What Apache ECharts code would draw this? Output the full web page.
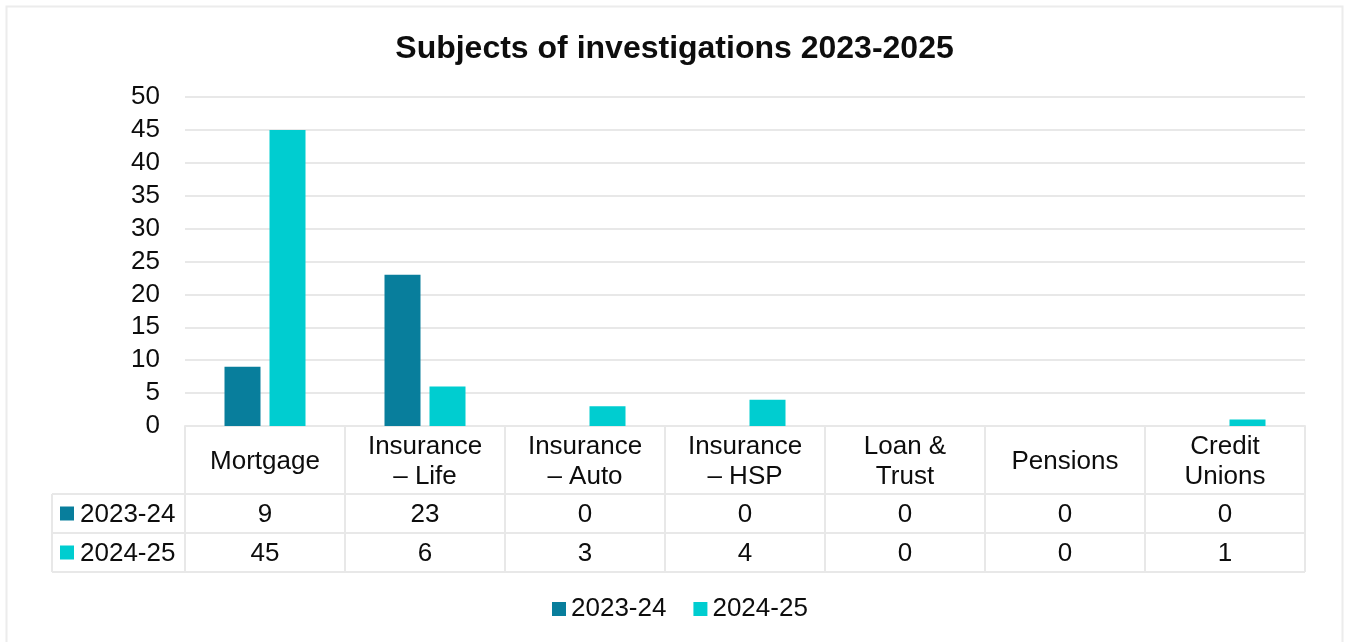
<!DOCTYPE html>
<html>
<head>
<meta charset="utf-8">
<script src="https://cdn.jsdelivr.net/npm/echarts@6/dist/echarts.min.js"></script>
<style>
html,body{margin:0;padding:0;background:#fff;}
#chart{width:1349px;height:642px;}
</style>
</head>
<body>
<div id="chart"></div>
<script>
const categories = ['Mortgage', 'Insurance\n– Life', 'Insurance\n– Auto', 'Insurance\n– HSP', 'Loan &\nTrust', 'Pensions', 'Credit\nUnions'];
const seriesNames = ['2023-24', '2024-25'];
const values2023 = [9, 23, 0, 0, 0, 0, 0];
const values2024 = [45, 6, 3, 4, 0, 0, 1];
const yTicks = { min: 0, max: 50, interval: 5 };
const titleText = 'Subjects of investigations 2023-2025';

const colors = ['#087e9c', '#00cdd0'];
const FONT = '"Liberation Sans", Arial, sans-serif';
const TXT = '#0d0d0d';
const LINE = '#e8e8e8';

const W = 1349, H = 642;
const GRID_L = 185, GRID_R = 1305, GRID_T = 97, GRID_B = 426;
const HEADER_H = 68, ROW_H = 39, TABLE_L = 52;

const chart = echarts.init(document.getElementById('chart'), null, { renderer: 'canvas' });

const rowY1 = GRID_B + HEADER_H;
const rowY2 = rowY1 + ROW_H;
const rowY3 = rowY2 + ROW_H;

const graphics = [
  { type: 'rect', shape: { x: 6.5, y: 6.5, width: W - 13, height: H }, style: { fill: null, stroke: '#ececec', lineWidth: 2 }, silent: true },
  { type: 'line', shape: { x1: TABLE_L, y1: rowY1, x2: GRID_R, y2: rowY1 }, style: { stroke: LINE, lineWidth: 2 } },
  { type: 'line', shape: { x1: TABLE_L, y1: rowY2, x2: GRID_R, y2: rowY2 }, style: { stroke: LINE, lineWidth: 2 } },
  { type: 'line', shape: { x1: TABLE_L, y1: rowY3, x2: GRID_R, y2: rowY3 }, style: { stroke: LINE, lineWidth: 2 } },
  { type: 'line', shape: { x1: TABLE_L, y1: rowY1, x2: TABLE_L, y2: rowY3 }, style: { stroke: LINE, lineWidth: 2 } }
];
seriesNames.forEach((name, i) => {
  const cy = rowY1 + ROW_H * i + ROW_H / 2;
  graphics.push({ type: 'rect', shape: { x: 60, y: cy - 7, width: 14, height: 14 }, style: { fill: colors[i] } });
  graphics.push({ type: 'text', x: 80, y: cy + 1, style: { text: name, font: '26px ' + FONT, fill: TXT, textVerticalAlign: 'middle', verticalAlign: 'middle' } });
});

const option = {
  animation: false,
  backgroundColor: '#fff',
  title: {
    text: titleText, left: 'center', top: 28,
    textStyle: { fontFamily: FONT, fontSize: 32, fontWeight: 'bold', color: TXT }
  },
  legend: {
    data: seriesNames, left: 547, top: 591, icon: 'rect', itemWidth: 14, itemHeight: 14, itemGap: 27,
    textStyle: { fontFamily: FONT, fontSize: 26, color: TXT }
  },
  grid: { left: GRID_L, right: W - GRID_R, top: GRID_T, bottom: H - GRID_B, containLabel: false },
  xAxis: [
    {
      type: 'category', data: categories, position: 'bottom',
      axisLine: { show: true, lineStyle: { color: LINE, width: 2 } },
      axisTick: { show: true, length: HEADER_H + 2 * ROW_H, lineStyle: { color: LINE, width: 2 } },
      axisLabel: { fontFamily: FONT, fontSize: 26, color: TXT, lineHeight: 30, margin: 36, verticalAlign: 'middle', interval: 0 }
    },
    {
      type: 'category', data: values2023.map(String), position: 'bottom', offset: HEADER_H,
      axisLine: { show: false }, axisTick: { show: false },
      axisLabel: { fontFamily: FONT, fontSize: 26, color: TXT, margin: ROW_H / 2 + 1, verticalAlign: 'middle', interval: 0 }
    },
    {
      type: 'category', data: values2024.map(String), position: 'bottom', offset: HEADER_H + ROW_H,
      axisLine: { show: false }, axisTick: { show: false },
      axisLabel: { fontFamily: FONT, fontSize: 26, color: TXT, margin: ROW_H / 2 + 1, verticalAlign: 'middle', interval: 0 }
    }
  ],
  yAxis: {
    type: 'value', min: yTicks.min, max: yTicks.max, interval: yTicks.interval,
    axisLine: { show: false }, axisTick: { show: false },
    axisLabel: { fontFamily: FONT, fontSize: 26, color: TXT, margin: 25, padding: [4, 0, 0, 0] },
    splitLine: { lineStyle: { color: LINE, width: 2 } }
  },
  series: [
    { name: seriesNames[0], type: 'bar', data: values2023, xAxisIndex: 0, barWidth: 36, barGap: '25%', itemStyle: { color: colors[0] } },
    { name: seriesNames[1], type: 'bar', data: values2024, xAxisIndex: 0, barWidth: 36, barGap: '25%', itemStyle: { color: colors[1] } }
  ],
  graphic: graphics
};
chart.setOption(option);
</script>
</body>
</html>
